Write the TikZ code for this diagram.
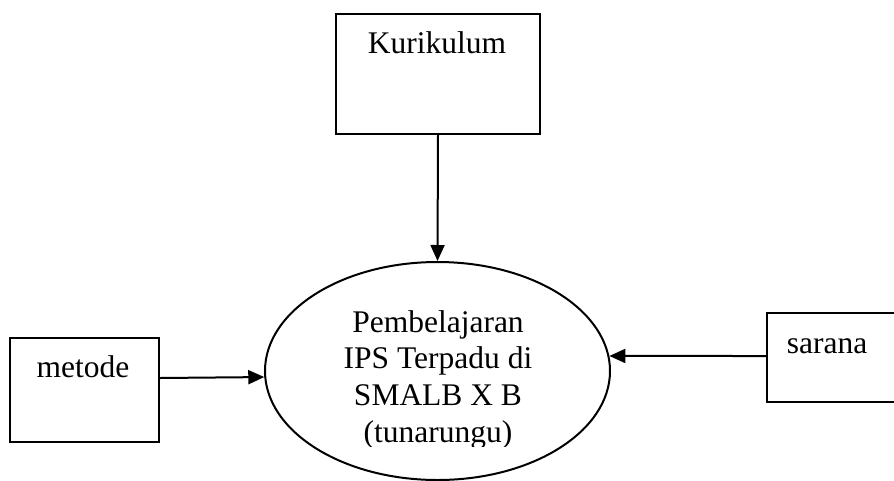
\documentclass[tikz,border=0pt]{standalone}
\usepackage{fontspec}
\setmainfont{Liberation Serif}
\usetikzlibrary{arrows.meta,shapes.geometric}
\begin{document}
\begin{tikzpicture}[x=1pt,y=-1pt,
  boxst/.style={draw, line width=2pt, inner sep=0pt, anchor=north west},
  lbl/.style={font=\fontsize{31.5}{37}\selectfont, inner sep=0pt, anchor=base},
  arr/.style={line width=2pt, -{Triangle[length=16pt,width=14pt]}}]
\useasboundingbox (0,0) rectangle (894,480);
\clip (0,0) rectangle (894,480);
% boxes
\node[boxst, minimum width=204pt, minimum height=120pt] (kur) at (335,13) {};
\node[lbl] (kurt) at (437,53) {Kurikulum};
\node[boxst, minimum width=149pt, minimum height=104pt] (met) at (9,337) {};
\node[lbl] (mett) at (83,377) {metode};
\node[boxst, minimum width=150pt, minimum height=89pt] (sar) at (766,312) {};
\node[lbl] (sart) at (827,353) {sarana};
% ellipse
\node[draw, ellipse, line width=2pt, minimum width=345pt, minimum height=218pt, inner sep=0pt] (pem) at (437.5,371) {};
\begin{scope}
\clip (265,250) rectangle (610,446);
\node[lbl] (p1) at (438,332) {Pembelajaran};
\node[lbl] (p2) at (438,368) {IPS Terpadu di};
\node[lbl] (p3) at (438,405) {SMALB X B};
\node[lbl] (p4) at (438,442) {(tunarungu)};
\end{scope}
% arrows
\draw[arr] (kur.south) -- (pem.north);
\draw[arr] ([yshift=12pt]met.east) -- (pem.182);
\coordinate (sarout) at (766,356);
\draw[arr] (sarout) -- (pem.5);
\end{tikzpicture}
\end{document}
